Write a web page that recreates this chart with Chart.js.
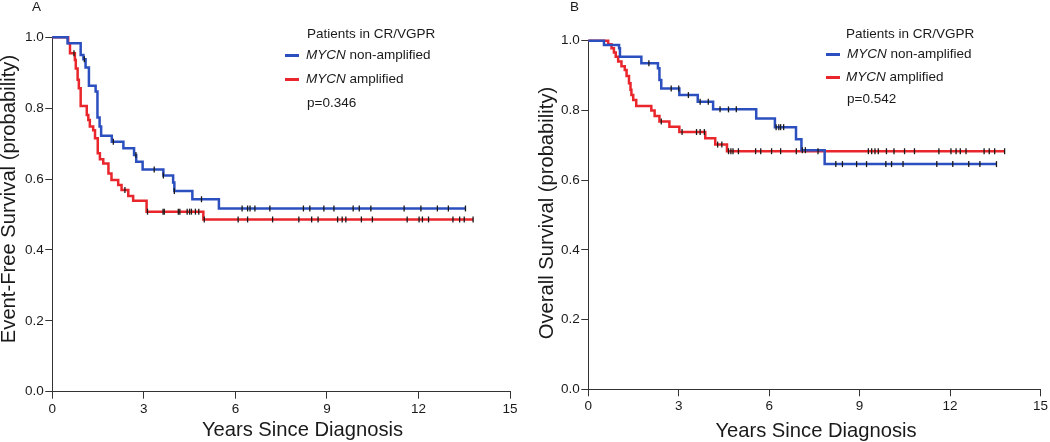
<!DOCTYPE html>
<html>
<head>
<meta charset="utf-8">
<script src="https://cdn.jsdelivr.net/npm/chart.js@4.4.0/dist/chart.umd.min.js"></script>
<style>
  body { margin: 0; background: #fff; }
  #wrap { position: relative; width: 1050px; height: 442px; font-family: "Liberation Sans", Arial, sans-serif; color: #1a1a1a; }
  .panel { position: absolute; top: 0; height: 442px; }
  .txt { position: absolute; font-size: 13.5px; line-height: 16px; height: 16px; white-space: nowrap; }
  .key { position: absolute; height: 2.5px; width: 14px; }
  .title { position: absolute; font-size: 20.2px; line-height: 24px; height: 24px; width: 320px; text-align: center; white-space: nowrap; }
  .ytitle { transform: rotate(-90deg); transform-origin: 50% 50%; }
</style>
</head>
<body>
<div id="wrap">
  <div class="panel" style="left:0;width:525px"><canvas id="efsChart" width="525" height="442"></canvas></div>
  <div class="panel" style="left:525px;width:525px"><canvas id="osChart" width="525" height="442"></canvas></div>

  <div class="txt" style="left:32px;top:-1px">A</div>
  <div class="title ytitle" style="left:-152px;top:186.5px">Event-Free Survival (probability)</div>
  <div class="title" style="left:142.5px;top:417px">Years Since Diagnosis</div>
  <div class="txt" style="left:307px;top:26px">Patients in CR/VGPR</div>
  <div class="key" style="left:285px;top:54px;background:#2c4fbf"></div>
  <div class="txt" style="left:306px;top:47px"><i>MYCN</i> non-amplified</div>
  <div class="key" style="left:285px;top:78px;background:#e8262c"></div>
  <div class="txt" style="left:306px;top:71px"><i>MYCN</i> amplified</div>
  <div class="txt" style="left:307px;top:95px">p=0.346</div>

  <div class="txt" style="left:570px;top:-1px">B</div>
  <div class="title ytitle" style="left:386px;top:200.8px">Overall Survival (probability)</div>
  <div class="title" style="left:656px;top:417.7px">Years Since Diagnosis</div>
  <div class="txt" style="left:846px;top:26px">Patients in CR/VGPR</div>
  <div class="key" style="left:826px;top:53px;background:#2c4fbf"></div>
  <div class="txt" style="left:847px;top:46px"><i>MYCN</i> non-amplified</div>
  <div class="key" style="left:826px;top:76px;background:#e8262c"></div>
  <div class="txt" style="left:846px;top:69px"><i>MYCN</i> amplified</div>
  <div class="txt" style="left:847px;top:91px">p=0.542</div>
</div>
<script>
// Axis ticks
const xTicks = [0, 3, 6, 9, 12, 15];
const yTicks = [0.0, 0.2, 0.4, 0.6, 0.8, 1.0];

// A: event-free survival, MYCN non-amplified
const efsNonAmpTime = [0, 0.50, 0.93, 1.02, 1.09, 1.20, 1.42, 1.48, 1.55, 1.60, 1.95, 2.33, 2.68, 2.75, 2.96, 3.64, 3.96, 4.00, 4.59, 5.46, 13.56];
const efsNonAmpSurv = [1.0, 0.983, 0.950, 0.938, 0.915, 0.863, 0.847, 0.774, 0.748, 0.722, 0.705, 0.687, 0.668, 0.649, 0.627, 0.610, 0.590, 0.566, 0.543, 0.517, 0.517];
const efsNonAmpCensor = [1.05, 2.0, 2.74, 3.34, 3.64, 4.0, 4.89, 6.22, 6.40, 6.48, 6.64, 7.13, 8.23, 8.44, 8.90, 9.23, 9.86, 10.06, 10.44, 11.53, 12.08, 12.62, 12.98, 13.54];

// A: event-free survival, MYCN amplified
const efsAmpTime = [0, 0.52, 0.58, 0.74, 0.77, 0.83, 0.87, 0.93, 1.13, 1.18, 1.23, 1.34, 1.40, 1.49, 1.56, 1.67, 1.84, 1.94, 2.16, 2.27, 2.49, 2.65, 3.09, 4.95, 13.8];
const efsAmpSurv = [1.0, 0.983, 0.955, 0.936, 0.912, 0.880, 0.856, 0.806, 0.781, 0.767, 0.748, 0.738, 0.715, 0.673, 0.656, 0.644, 0.616, 0.597, 0.583, 0.569, 0.552, 0.539, 0.508, 0.486, 0.486];
const efsAmpCensor = [0.71, 2.38, 3.12, 3.63, 3.67, 4.13, 4.18, 4.42, 4.50, 4.56, 4.69, 4.80, 4.98, 6.09, 6.40, 7.22, 8.08, 8.50, 8.71, 9.35, 9.50, 9.62, 10.13, 10.49, 11.63, 12.02, 12.13, 12.33, 13.13, 13.35, 13.50, 13.79];

// B: overall survival, MYCN non-amplified
const osNonAmpTime = [0, 0.52, 1.02, 1.05, 1.76, 2.31, 2.36, 2.42, 3.02, 3.63, 4.14, 5.57, 6.19, 6.89, 7.07, 7.84, 13.55];
const osNonAmpSurv = [1.0, 0.988, 0.978, 0.954, 0.935, 0.921, 0.887, 0.863, 0.844, 0.825, 0.803, 0.777, 0.752, 0.717, 0.686, 0.646, 0.646];
const osNonAmpCensor = [2.01, 2.75, 3.0, 3.32, 3.71, 3.98, 4.37, 4.65, 4.91, 6.23, 6.32, 6.38, 6.48, 7.10, 7.20, 8.21, 8.43, 8.90, 9.23, 9.87, 10.06, 10.44, 11.56, 12.09, 12.62, 12.99, 13.54];

// B: overall survival, MYCN amplified
const osAmpTime = [0, 0.66, 0.77, 0.85, 0.91, 0.99, 1.10, 1.21, 1.27, 1.35, 1.40, 1.43, 1.49, 1.59, 2.09, 2.20, 2.36, 2.69, 3.02, 3.88, 4.21, 4.60, 13.81];
const osAmpSurv = [1.0, 0.990, 0.978, 0.966, 0.954, 0.940, 0.927, 0.916, 0.899, 0.878, 0.859, 0.844, 0.830, 0.813, 0.800, 0.784, 0.768, 0.753, 0.738, 0.720, 0.702, 0.683, 0.683];
const osAmpCensor = [2.42, 3.11, 3.59, 3.71, 3.85, 4.29, 4.43, 4.65, 4.73, 4.80, 4.98, 5.55, 5.72, 6.08, 6.38, 6.90, 7.62, 9.29, 9.40, 9.51, 9.62, 9.89, 10.14, 10.49, 10.82, 11.63, 12.03, 12.20, 12.34, 12.53, 13.13, 13.30, 13.48, 13.81];

const BLUE = '#2c4fbf';
const RED = '#e8262c';
const INK = '#1a1a1a';

Chart.defaults.font.family = '"Liberation Sans", Arial, sans-serif';
Chart.defaults.color = INK;

function stepPoints(times, surv) {
    return times.map((t, i) => ({ x: t, y: surv[i] }));
}

// censor marks sit on the curve level at that time
function censorPoints(marks, times, surv) {
    return marks.map(t => {
        let y = surv[0];
        for (let i = 0; i < times.length; i++) {
            if (times[i] <= t) y = surv[i];
        }
        return { x: t, y: y };
    });
}

function curve(times, surv, color) {
    return {
        data: stepPoints(times, surv),
        borderColor: color,
        borderWidth: 2.5,
        stepped: true,
        pointRadius: 0,
        clip: false,
        order: 2
    };
}

function marks(m, times, surv) {
    return {
        data: censorPoints(m, times, surv),
        showLine: false,
        pointStyle: 'line',
        rotation: 90,
        pointRadius: 3,
        pointBorderWidth: 1.3,
        pointBorderColor: INK,
        clip: false,
        order: 1
    };
}

function makePanel(id, yWidth, xHeight, pad, datasets) {
    return new Chart(document.getElementById(id), {
        type: 'line',
        data: { datasets: datasets },
        options: {
            responsive: false,
            animation: false,
            devicePixelRatio: 1,
            layout: { padding: pad },
            plugins: { legend: { display: false }, tooltip: { enabled: false } },
            scales: {
                x: {
                    type: 'linear',
                    min: 0,
                    max: 15,
                    afterBuildTicks: s => { s.ticks = xTicks.map(v => ({ value: v })); },
                    ticks: { font: { size: 13.5 }, color: INK, padding: 2 },
                    grid: { display: true, drawOnChartArea: false, drawTicks: true, tickLength: 7, color: '#333' },
                    border: { color: '#333', width: 1 },
                    afterFit: s => { s.height = xHeight; }
                },
                y: {
                    type: 'linear',
                    min: 0,
                    max: 1,
                    afterBuildTicks: s => { s.ticks = yTicks.map(v => ({ value: v })); },
                    ticks: { font: { size: 13.5 }, color: INK, padding: 1.5, callback: v => v.toFixed(1) },
                    grid: { display: true, drawOnChartArea: false, drawTicks: true, tickLength: 7, color: '#333' },
                    border: { color: '#333', width: 1 },
                    afterFit: s => { s.width = yWidth; }
                }
            }
        }
    });
}

makePanel('efsChart', 52.3, 50.3, { top: 37.3, right: 15, bottom: 0, left: 0 }, [
    curve(efsNonAmpTime, efsNonAmpSurv, BLUE),
    curve(efsAmpTime, efsAmpSurv, RED),
    marks(efsNonAmpCensor, efsNonAmpTime, efsNonAmpSurv),
    marks(efsAmpCensor, efsAmpTime, efsAmpSurv)
]);

makePanel('osChart', 63.3, 52.7, { top: 40.7, right: 6.7, bottom: 0, left: 0 }, [
    curve(osNonAmpTime, osNonAmpSurv, BLUE),
    curve(osAmpTime, osAmpSurv, RED),
    marks(osNonAmpCensor, osNonAmpTime, osNonAmpSurv),
    marks(osAmpCensor, osAmpTime, osAmpSurv)
]);
</script>
</body>
</html>
